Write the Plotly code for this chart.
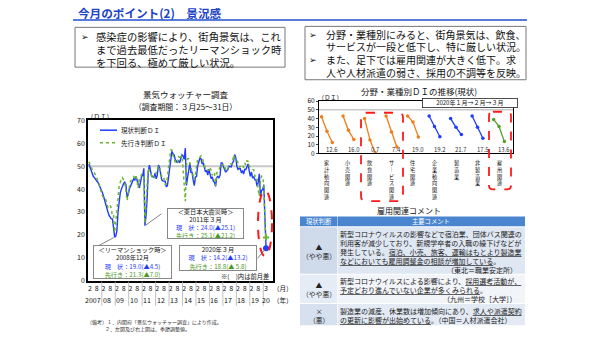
import plotly.graph_objects as go

W, H = 600, 337
FONT = "Noto Sans CJK JP"


def px(x):
    return x / W


def py(y):
    return 1 - y / H


# ---------------- data ----------------
# Economy Watchers survey, monthly, Jan 2007 .. Mar 2020 (seasonally adjusted)
current_di = [
    51.0, 49.5, 48.0, 46.5, 45.5, 45.0, 44.0, 43.5, 43.0, 42.0, 41.0, 40.0,  # 2007
    38.5, 37.0, 35.0, 33.5, 32.0, 30.0, 28.5, 27.5, 27.0, 27.0, 23.5, 19.0,  # 2008
    19.5, 22.0, 30.0, 36.0, 38.5, 40.0, 41.5, 42.5, 43.0, 42.0, 36.5, 37.5,  # 2009
    40.0, 41.5, 42.5, 43.5, 44.5, 44.0, 45.5, 44.0, 41.5, 40.5, 43.0, 45.5,  # 2010
    46.0, 49.1, 24.0, 28.5, 36.5, 48.0, 50.5, 47.0, 45.5, 45.5, 45.0, 47.0,  # 2011
    44.5, 46.0, 50.5, 49.5, 46.5, 44.0, 43.5, 43.5, 43.5, 41.0, 41.5, 45.0,  # 2012
    49.0, 53.0, 56.5, 55.5, 55.0, 53.0, 52.0, 51.5, 52.5, 51.5, 53.5, 55.0,  # 2013
    54.5, 53.0, 57.9, 41.6, 45.1, 47.7, 51.3, 47.4, 47.4, 44.0, 41.5, 45.2,  # 2014
    45.6, 50.1, 52.2, 53.6, 53.3, 51.0, 51.6, 49.3, 47.5, 48.2, 46.1, 48.7,  # 2015
    46.6, 44.6, 45.4, 43.5, 43.0, 41.2, 45.1, 45.6, 44.8, 46.2, 51.4, 51.4,  # 2016
    49.8, 48.6, 47.4, 48.1, 48.6, 50.0, 49.7, 49.7, 51.3, 52.2, 55.1, 53.9,  # 2017
    49.9, 48.6, 48.9, 49.0, 47.1, 48.1, 46.6, 48.7, 48.6, 49.5, 51.0, 48.0,  # 2018
    45.6, 47.5, 44.8, 45.5, 44.1, 44.0, 41.2, 42.8, 46.7, 36.8, 39.4, 39.8,  # 2019
    41.9, 27.4, 14.2,                                                        # 2020
]
forward_di = [
    52.0, 50.5, 49.5, 48.5, 47.5, 47.0, 46.0, 45.0, 44.0, 42.5, 40.5, 38.5,  # 2007
    37.0, 36.5, 35.5, 35.5, 33.5, 32.0, 32.5, 33.0, 31.5, 28.0, 28.3, 21.3,  # 2008
    25.5, 29.5, 36.0, 41.5, 43.5, 44.5, 45.0, 44.0, 42.5, 39.5, 35.0, 37.5,  # 2009
    41.5, 43.5, 44.0, 44.5, 45.5, 45.0, 46.0, 42.0, 40.5, 44.5, 45.0, 46.5,  # 2010
    46.5, 46.3, 25.1, 35.8, 42.6, 48.9, 47.4, 47.1, 45.7, 44.6, 45.4, 44.9,  # 2011
    47.1, 49.3, 50.2, 49.7, 46.4, 45.3, 44.3, 44.6, 42.1, 42.1, 45.3, 50.9,  # 2012
    53.2, 57.1, 57.1, 54.6, 54.0, 51.7, 51.3, 51.2, 54.5, 53.0, 54.2, 54.7,  # 2013
    49.0, 40.0, 34.7, 50.3, 53.3, 53.3, 51.5, 50.4, 48.7, 46.6, 44.0, 46.7,  # 2014
    50.0, 53.2, 53.4, 54.2, 54.5, 53.8, 51.9, 49.8, 49.1, 49.1, 48.2, 48.2,  # 2015
    49.5, 48.2, 46.0, 46.9, 47.3, 41.5, 47.1, 47.4, 48.5, 49.0, 50.9, 50.9,  # 2016
    50.4, 50.6, 48.1, 48.1, 49.4, 50.5, 51.0, 51.1, 51.0, 54.9, 53.8, 52.7,  # 2017
    52.4, 51.4, 49.6, 49.9, 50.2, 50.6, 49.4, 51.4, 50.6, 52.4, 52.2, 50.0,  # 2018
    49.4, 48.9, 48.6, 48.4, 45.6, 45.8, 44.3, 39.7, 36.9, 43.7, 45.7, 45.4,  # 2019
    41.8, 24.6, 18.8,                                                        # 2020
]
year_labels = ["2007", "08", "09", "10", "11", "12", "13", "14", "15", "16", "17", "18", "19", "20"]
month_labels = ["2", "8"]
last_month_label = "3"

sector_names = ["家計動向関連", "小売関連", "飲食関連", "サービス関連", "住宅関連",
                "企業動向関連", "製造業", "非製造業", "雇用関連"]
sector_jan = [42.0, 43.0, 40.0, 43.0, 43.0, 43.0, 40.0, 43.0, 39.0]
sector_feb = [25.5, 26.5, 15.5, 24.5, 36.0, 31.0, 30.0, 30.0, 31.0]
sector_mar = [12.6, 16.0, 0.7, 7.4, 19.0, 19.2, 21.7, 17.5, 13.6]
sector_group = ["家計", "家計", "家計", "家計", "家計", "企業", "企業", "企業", "雇用"]

judgements = ["▲<br>（やや悪）", "▲<br>（やや悪）", "×<br>（悪）"]
comment_lines = [
    ["新型コロナウイルスの影響などで宿泊業、団体バス関連の",
     "利用客が減少しており、新規学卒者の入職の繰下げなどが",
     "発生している。<u>宿泊、小売、旅客、運輸はもとより製造業</u>",
     "<u>などにおいても雇用調整金の相談が増加している</u>。"],
    ["新型コロナウイルスによる影響により、<u>採用選考活動が、</u>",
     "<u>予定どおり進んでいない企業が多くみられる</u>。"],
    ["製造業の減産、休業数は増加傾向にあり、<u>求人や派遣契約</u>",
     "<u>の更新に影響が出始めている</u>。（中国＝人材派遣会社）"],
]
comment_sources = ["（東北＝職業安定所）", "（九州＝学校［大学］）", ""]

# ---------------- styles ----------------
BLUE = "#1f3cff"
GREEN = "#6cb52d"
GREEN_TXT = "#4a9a1c"
ORANGE = "#f07d1a"
RED = "#ff1a1a"
group_colors = {"家計": ORANGE, "企業": "#1f3cff", "雇用": "#5a9e2a"}

fig = go.Figure()
months = list(range(len(current_di)))

fig.add_trace(go.Scatter(x=months, y=current_di, mode="lines",
                         line=dict(color=BLUE, width=1.4), xaxis="x", yaxis="y", hoverinfo="skip"))
fig.add_trace(go.Scatter(x=months, y=forward_di, mode="lines",
                         line=dict(color=GREEN, width=1.5, dash="dot"), xaxis="x", yaxis="y", hoverinfo="skip"))
fig.add_trace(go.Scatter(x=[months[-1]], y=[current_di[-1]], mode="markers",
                         marker=dict(color=BLUE, size=6), xaxis="x", yaxis="y", hoverinfo="skip"))
fig.add_trace(go.Scatter(x=[months[-1]], y=[forward_di[-1]], mode="markers",
                         marker=dict(color=GREEN, size=5, symbol="cross"), xaxis="x", yaxis="y", hoverinfo="skip"))

for i, name in enumerate(sector_names):
    col = group_colors[sector_group[i]]
    fig.add_trace(go.Scatter(x=[i - 0.25, i, i + 0.25], y=[sector_jan[i], sector_feb[i], sector_mar[i]],
                             mode="lines+markers", line=dict(color=col, width=1.3),
                             marker=dict(color=col, size=3.5), xaxis="x2", yaxis="y2", hoverinfo="skip"))

shapes = []
ann = []


def text(x, y, s, size, color="#111", xanchor="center", yanchor="middle", **kw):
    d = dict(x=px(x), y=py(y), xref="paper", yref="paper", text=s, showarrow=False, borderpad=0,
             font=dict(size=size, color=color, family=FONT), xanchor=xanchor, yanchor=yanchor)
    d.update(kw)
    ann.append(d)


def rect(x0, y0, x1, y1, fill="rgba(0,0,0,0)", lc="rgba(0,0,0,0)", lw=0, dash=None):
    ln = dict(color=lc, width=lw)
    if dash:
        ln["dash"] = dash
    shapes.append(dict(type="rect", xref="paper", yref="paper", x0=px(x0), x1=px(x1),
                       y0=py(y1), y1=py(y0), fillcolor=fill, line=ln))


def rounded(x0, y0, x1, y1, r, color):
    P = lambda x, y: f"{px(x):.5f},{py(y):.5f}"
    path = (f"M {P(x0 + r, y0)} L {P(x1 - r, y0)} Q {P(x1, y0)} {P(x1, y0 + r)} "
            f"L {P(x1, y1 - r)} Q {P(x1, y1)} {P(x1 - r, y1)} L {P(x0 + r, y1)} "
            f"Q {P(x0, y1)} {P(x0, y1 - r)} L {P(x0, y0 + r)} Q {P(x0, y0)} {P(x0 + r, y0)} Z")
    shapes.append(dict(type="path", xref="paper", yref="paper", path=path,
                       line=dict(color=color, width=1.8, dash="dash")))


# ---- header ----
text(77, 7.5, "<b>今月のポイント(2)　景況感</b>", 11.6, "#1c44c4", xanchor="left")
shapes.append(dict(type="line", xref="paper", yref="paper", x0=px(73), x1=px(527), y0=py(14.5), y1=py(14.5),
                   line=dict(color="#2050d0", width=1.5)))

# left text box
rect(75, 22, 285, 63, fill="white", lc="#777", lw=1)
text(85, 31.3, "➢", 9)
for y, s in zip([31.3, 45.0, 58.7], ["感染症の影響により、街角景気は、これ",
                                     "まで過去最低だったリーマンショック時",
                                     "を下回る、極めて厳しい状況。"]):
    text(95, y, s, 10.3, xanchor="left")

# right text box
rect(305, 21, 526, 76, fill="white", lc="#777", lw=1)
right_y = [28.9, 42.0, 55.1, 68.2]
text(313, right_y[0], "➢", 9)
text(313, right_y[2], "➢", 9)
for y, s in zip(right_y, ["分野・業種別にみると、街角景気は、飲食、",
                          "サービスが一段と低下し、特に厳しい状況。",
                          "また、足下では雇用関連が大きく低下。求",
                          "人や人材派遣の弱さ、採用の不調等を反映。"]):
    text(325, y, s, 10, xanchor="left")

# ---- left chart decorations ----
text(185, 91, "景気ウォッチャー調査", 8.5)
text(185, 103.5, "（調査期間：３月25～31日）", 7.8)
text(100, 113, "（ＤＩ）", 6.5)
shapes.append(dict(type="line", xref="x domain", yref="y", x0=0, x1=1, y0=50, y1=50,
                   line=dict(color="#c8c8c8", width=2), layer="below"))
shapes.append(dict(type="line", xref="paper", yref="paper", x0=px(100), x1=px(117), y0=py(128), y1=py(128),
                   line=dict(color=BLUE, width=1.5)))
shapes.append(dict(type="line", xref="paper", yref="paper", x0=px(100), x1=px(117), y0=py(141), y1=py(141),
                   line=dict(color=GREEN, width=1.5, dash="dot")))
text(120, 128, "現状判断ＤＩ", 6.5, xanchor="left")
text(120, 141, "先行き判断ＤＩ", 6.5, xanchor="left")

# x axis ticks
n_years = len(year_labels) - 1
tickvals, ticktext = [], []
for k in range(n_years):
    tickvals += [12 * k + 1, 12 * k + 7]
    ticktext += month_labels
tickvals.append(months[-1])
ticktext.append(last_month_label)
for k in range(n_years):
    ann.append(dict(x=12 * k + 4, y=py(303), xref="x", yref="paper", text=year_labels[k], showarrow=False,
                    xanchor="center", yanchor="middle", font=dict(size=7, color="#111", family=FONT)))
ann.append(dict(x=months[-1], y=py(303), xref="x", yref="paper", text=year_labels[-1], showarrow=False,
                xanchor="center", yanchor="middle", font=dict(size=7, color="#111", family=FONT)))
for k in range(1, n_years + 1):
    shapes.append(dict(type="line", xref="x", yref="paper", x0=12 * k - 0.5, x1=12 * k - 0.5,
                       y0=py(284), y1=py(309), line=dict(color="#b0b0b0", width=0.8)))
text(283, 291, "（月）", 6.5)
text(283, 303, "（年）", 6.5)


def event_text(idx, title, pad=False):
    c, dc = current_di[idx], current_di[idx] - current_di[idx - 1]
    f, df = forward_di[idx], forward_di[idx] - forward_di[idx - 1]
    fmt = "{:4.1f}" if pad else "{:.1f}"
    d1 = fmt.format(abs(dc)).replace(" ", "&nbsp;")
    d2 = fmt.format(abs(df)).replace(" ", "&nbsp;")
    lines = title + [f"<span style='color:{BLUE}'>現　状：{c:.1f}(▲{d1})</span>",
                     f"<span style='color:{GREEN_TXT}'>先行き：{f:.1f}(▲{d2})</span>"]
    return "<br>".join(lines)


i_lehman, i_quake, i_now = 23, 50, months[-1]
box = dict(showarrow=False, bgcolor="white", bordercolor="#888", borderwidth=1, borderpad=0,
           font=dict(size=6.2, color="#111", family=FONT), xref="paper", yref="paper", align="center",
           valign="middle", xanchor="center", yanchor="middle")
ann.append(dict(box, x=px(132.5), y=py(264), width=77, height=32,
                text=event_text(i_lehman, ["＜リーマンショック時＞", "2008年12月"])))
ann.append(dict(box, x=px(205.5), y=py(224.5), width=75, height=29,
                text=event_text(i_quake, ["＜東日本大震災時＞", "2011年３月"])))
ann.append(dict(box, x=px(218), y=py(260), width=76, height=24,
                text=event_text(i_now, ["2020年３月"], pad=True)))
for idx, dx, dy in [(i_lehman, -17, 9), (i_quake, 18, -13), (i_now, -10, 12)]:
    ann.append(dict(x=idx, y=current_di[idx], xref="x", yref="y", text=" ", showarrow=True, arrowhead=0,
                    ax=dx, ay=dy, arrowcolor="#666", arrowwidth=0.8, font=dict(size=1), standoff=1))
text(270, 279, "※(　)内は前月差", 6.3, xanchor="right")
shapes.append(dict(type="circle", xref="paper", yref="paper", x0=px(258), x1=px(272), y0=py(258), y1=py(190),
                   line=dict(color=RED, width=2, dash="dash")))

text(86, 326, "（備考）１．内閣府「景気ウォッチャー調査」により作成。", 5, "#333", xanchor="left")
text(104, 332.5, "２．左図及び右上図は、季節調整値。", 5, "#333", xanchor="left")

# ---- right chart decorations ----
text(419, 88, "分野・業種別ＤＩの推移(現状)", 8.5)
text(330, 94, "（ＤＩ）", 6.2)
shapes.append(dict(type="line", xref="x2 domain", yref="y2", x0=0, x1=1, y0=50, y1=50,
                   line=dict(color="#c8c8c8", width=1.5), layer="below"))
ann.append(dict(x=px(469.5), y=py(99.5), xref="paper", yref="paper", text="2020年１月→２月→３月",
                showarrow=False, bgcolor="white", bordercolor="#222", borderwidth=0.8, borderpad=0,
                xanchor="center", yanchor="middle",
                width=94, height=8, font=dict(size=6, color="#111", family=FONT)))
for i, v in enumerate(sector_mar):
    ann.append(dict(x=i + 0.25, y=py(148), xref="x2", yref="paper", text=f"{v:.1f}", showarrow=False,
                    borderpad=0, xanchor="center", yanchor="middle", font=dict(size=6, color="#333", family=FONT)))
for i, name in enumerate(sector_names):
    vertical = "<br>".join("｜" if ch == "ー" else ch for ch in name)
    ann.append(dict(x=i, y=py(156.5), xref="x2", yref="paper", text=vertical, showarrow=False,
                    xanchor="center", yanchor="top", borderpad=0,
                    font=dict(size=5.2, color="#111", family=FONT)))
rounded(361, 110, 403, 201, 5, RED)
rounded(489, 109, 511, 189, 4, RED)

# ---- table ----
text(409, 211, "雇用関連コメント", 8)
rect(300, 217, 337, 227, fill="#4a86cf")
rect(337.5, 217, 525, 227, fill="#4a86cf")
text(318.5, 222, "現状判断", 6.3, "white")
text(431, 222, "主要コメント", 6.3, "white")
rows = [(228, 276), (277, 306), (307, 329)]
c1 = ["#cfdaeb", "#e6ecf5", "#d6e0ee"]
c2 = ["#dfe7f3", "#f1f4f9", "#e3eaf4"]
LS = 9.3
line_y0 = [234.5, 283, 314]
for r, (y0, y1) in enumerate(rows):
    rect(300, y0, 337, y1, fill=c1[r])
    rect(337.5, y0, 525, y1, fill=c2[r])
    text(318.5, (y0 + y1) / 2 + 1, judgements[r], 6.8, "#222")
    for j, s in enumerate(comment_lines[r]):
        text(339, line_y0[r] + j * LS, s, 7, "#222", xanchor="left")
    if comment_sources[r]:
        text(518, line_y0[r] + len(comment_lines[r]) * LS, comment_sources[r], 7, "#222", xanchor="right")

axis_common = dict(showline=True, mirror=True, linecolor="black", showgrid=False, zeroline=False)
fig.update_layout(
    width=W, height=H, margin=dict(l=0, r=0, t=0, b=0),
    paper_bgcolor="white", plot_bgcolor="white", showlegend=False,
    font=dict(family=FONT, color="#111"),
    xaxis=dict(axis_common, domain=[px(88), px(273)], range=[-0.8, 164.2], tickvals=tickvals,
               ticktext=ticktext, tickfont=dict(size=7), ticks="", tickangle=0, linewidth=1.6, anchor="y"),
    yaxis=dict(axis_common, domain=[py(283), py(118)], range=[0, 70], dtick=10,
               tickfont=dict(size=7), ticks="", linewidth=1.6, anchor="x"),
    xaxis2=dict(axis_common, domain=[px(319), px(513)], range=[-0.37, 8.65], showticklabels=False,
                ticks="", linewidth=1.2, anchor="y2"),
    yaxis2=dict(axis_common, domain=[py(152), py(98)], range=[0, 60], dtick=10,
                tickfont=dict(size=6.5), ticks="outside", ticklen=2, linewidth=1.2, anchor="x2"),
    shapes=shapes, annotations=ann,
)

fig.write_html("out.html")
